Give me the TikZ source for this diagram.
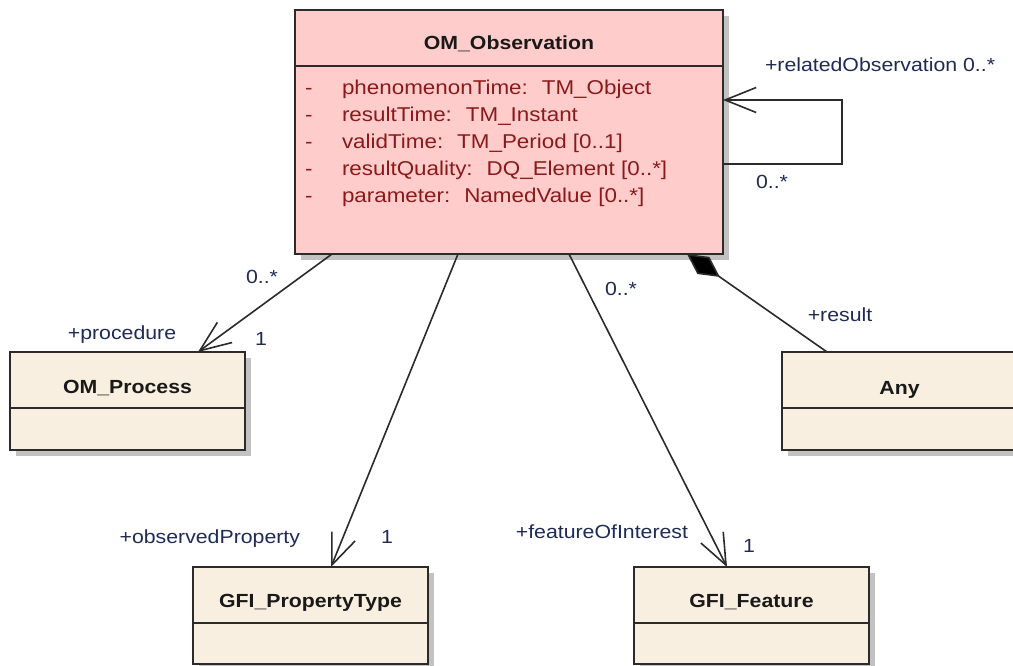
\documentclass[tikz,border=0pt]{standalone}
\usepackage{fontspec}
\setmainfont{Liberation Sans}[FakeStretch=1.12]
\usetikzlibrary{arrows.meta,calc,shadows}
\definecolor{obsfill}{HTML}{FFCCCC}
\definecolor{clsfill}{HTML}{F8EFE1}
\definecolor{shadowgray}{HTML}{C2C2C2}
\definecolor{bordercol}{HTML}{2B2B2B}
\definecolor{attrred}{HTML}{8A1A1A}
\definecolor{rolenavy}{HTML}{1F2B57}
\newcommand{\attrgap}{\hspace{14pt}}
\begin{document}
\begin{tikzpicture}[x=1pt,y=-1pt,
  font=\fontsize{19}{23}\selectfont,
  every node/.style={outer sep=0pt, inner sep=0pt},
  clsshadow/.style={drop shadow={shadow xshift=6pt, shadow yshift=-6pt, fill=shadowgray, opacity=1}},
  clsbox/.style={draw=bordercol, line width=1.6pt, fill=clsfill, minimum width=235pt, minimum height=98pt, clsshadow},
  obsbox/.style={draw=bordercol, line width=1.6pt, fill=obsfill, minimum width=428pt, minimum height=244pt, clsshadow},
  divider/.style={draw=bordercol, line width=1.2pt},
  clstitle/.style={anchor=base, font=\fontsize{19}{23}\selectfont\bfseries, text=black!90},
  attr/.style={anchor=base west, text=attrred, font=\fontsize{20}{24}\selectfont},
  role/.style={anchor=base, text=rolenavy},
  assoc/.style={draw=bordercol, line width=1.6pt, -{Straight Barb[length=31pt,width=25pt]}},
  comp/.style={draw=bordercol, line width=1.6pt, -{Diamond[length=40pt,width=21pt,fill=black]}}
]
\useasboundingbox (0,0) rectangle (1013,666);
\clip (0,0) rectangle (1013,666);
\fill[white] (0,0) rectangle (1013,666);

% class boxes
\node[obsbox] (obs) at (509,132) {};
\node[clsbox] (proc) at (127.5,401) {};
\node[clsbox] (any) at (899.5,401) {};
\node[clsbox, minimum height=97pt] (ptype) at (310.5,615.5) {};
\node[clsbox, minimum height=97pt] (feat) at (751.5,615.5) {};

% dividers
\draw[divider] ($(obs.north west)+(0,56)$) -- ($(obs.north east)+(0,56)$);
\draw[divider] ($(proc.north west)+(0,56)$) -- ($(proc.north east)+(0,56)$);
\draw[divider] ($(any.north west)+(0,56)$) -- ($(any.north east)+(0,56)$);
\draw[divider] ($(ptype.north west)+(0,56)$) -- ($(ptype.north east)+(0,56)$);
\draw[divider] ($(feat.north west)+(0,56)$) -- ($(feat.north east)+(0,56)$);

% titles
\node[clstitle] (obst) at ($(obs.north)+(0,40)$) {OM\_Observation};
\node[clstitle] (proct) at ($(proc.north)+(0,41)$) {OM\_Process};
\node[clstitle] (anyt) at ($(any.north)+(0,42)$) {Any};
\node[clstitle] (ptypet) at ($(ptype.north)+(0,40)$) {GFI\_PropertyType};
\node[clstitle] (featt) at ($(feat.north)+(0,40)$) {GFI\_Feature};

% attributes
\foreach \i/\txt in {0/{phenomenonTime:\attrgap TM\_Object},
                     1/{resultTime:\attrgap TM\_Instant},
                     2/{validTime:\attrgap TM\_Period [0..1]},
                     3/{resultQuality:\attrgap DQ\_Element [0..*]},
                     4/{parameter:\attrgap NamedValue [0..*]}}{
  \node[attr] (dash\i) at ($(obs.north west)+(10,85+27*\i)$) {-};
  \node[attr] (attr\i) at ($(obs.north west)+(47,85+27*\i)$) {\txt};
}

% associations
\draw[assoc] ($(obs.south west)+(37,0)$) -- ($(proc.north west)+(188,0)$);
\draw[assoc] ($(obs.south west)+(163,0)$) -- ($(ptype.north west)+(138,0)$);
\draw[assoc] ($(obs.south west)+(274,0)$) -- ($(feat.north west)+(93,0)$);
\draw[comp] ($(any.north west)+(45,0)$) -- ($(obs.south west)+(392,0)$);
\draw[assoc] ($(obs.north east)+(0,154)$) -- ++(119,0) |- ($(obs.north east)+(0,90)$);

% role labels and multiplicities
\node[role] (m1) at (262,283) {0..*};
\node[role] (m2) at (261,345) {1};
\node[role] (r1) at (122,339) {+procedure};
\node[role, anchor=base east] (r2) at (300,543) {+observedProperty};
\node[role] (m3) at (387,543) {1};
\node[role, anchor=base east] (r3) at (688,538) {+featureOfInterest};
\node[role] (m4) at (749,552) {1};
\node[role] (m5) at (621,295) {0..*};
\node[role] (r4) at (840,321) {+result};
\node[role, anchor=base west] (r5) at (765,72) {+relatedObservation 0..*};
\node[role] (m6) at (772,189) {0..*};
\end{tikzpicture}
\end{document}
